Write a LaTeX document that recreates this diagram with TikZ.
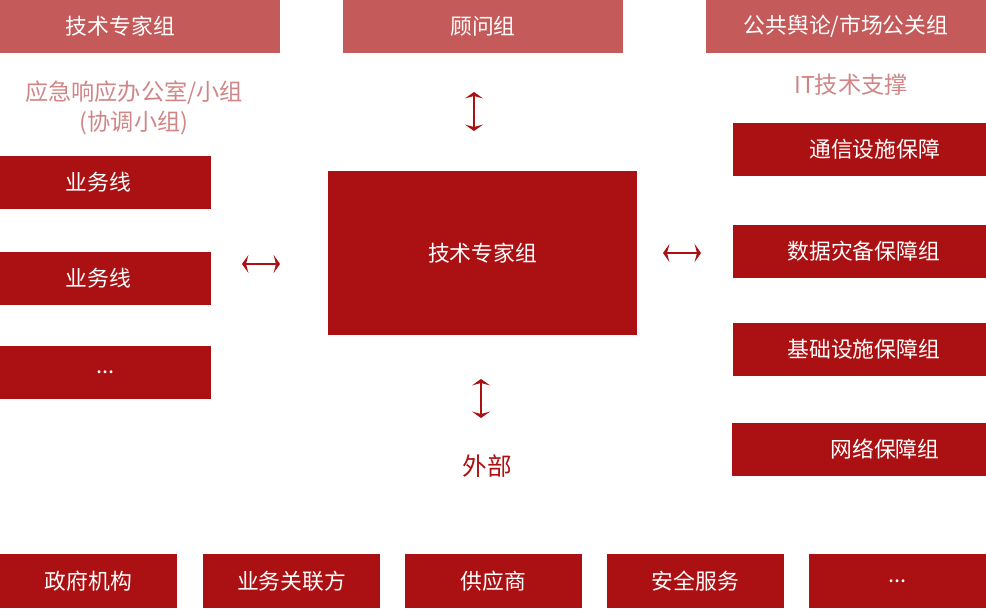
\documentclass[tikz,border=0pt]{standalone}
\usepackage{fontspec}
\newfontfamily\cjk{Noto Sans CJK SC}
\usepackage{tikz}
\usetikzlibrary{arrows.meta}
\definecolor{darkred}{HTML}{AB1012}
\definecolor{lightred}{HTML}{C55A5A}
\definecolor{palered}{HTML}{D08686}
\tikzset{banner/.style={fill=lightred, text=white, minimum width=7cm, minimum height=1.325cm, inner sep=0pt, font=\cjk\fontsize{15.5}{18}\selectfont}}
\tikzset{box/.style={fill=darkred, text=white, minimum height=1.325cm, inner sep=0pt, font=\cjk\fontsize{15.5}{18}\selectfont}}
\tikzset{linebox/.style={box, minimum width=5.275cm}}
\tikzset{itbox/.style={box, minimum width=6.325cm, text width=4.025cm, align=right}}
\tikzset{extbox/.style={box, minimum width=4.425cm, minimum height=1.35cm}}
\tikzset{note/.style={text=palered, align=center, font=\cjk\fontsize{16.5}{21.5}\selectfont}}
\tikzset{link/.style={darkred, line width=2pt, {Stealth[length=0.16cm,width=0.45cm,inset=0.06cm]}-{Stealth[length=0.16cm,width=0.45cm,inset=0.06cm]}}}

\begin{document}
\begin{tikzpicture}[x=0.025cm,y=-0.025cm]
    \useasboundingbox (0,0) rectangle (986,610);

    \node[banner, text width=3.7cm, align=left] at (140,26.5) (expert){技术专家组};
    \node[banner] at (483,26.5) (advisor){顾问组};
    \node[banner] at (846,26.5) (pr){公共舆论/市场公关组};

    \node[note] at (134,108) (office){应急响应办公室/小组\\(协调小组)};
    \node[linebox, text width=1.975cm, align=left] at (105.5,182.5) (biz1){业务线};
    \node[linebox, text width=1.975cm, align=left] at (105.5,278.5) (biz2){业务线};
    \node[linebox] at (105.5,372.5) (biz3){...};

    \node[box, minimum width=7.725cm, minimum height=4.1cm] at (482.5,253) (core){技术专家组};

    \node[note] at (851,85) (it){IT技术支撑};
    \node[itbox] at (859.5,149.5) (it1){通信设施保障};
    \node[itbox] at (859.5,251.5) (it2){数据灾备保障组};
    \node[itbox] at (859.5,349.5) (it3){基础设施保障组};
    \node[itbox] at (859,449.5) (it4){网络保障组};

    \node[note, text=darkred, font=\cjk\fontsize{17.5}{21}\selectfont] at (487,466) (ext){外部};

    \node[extbox] at (88.5,581) (gov){政府机构};
    \node[extbox] at (291.5,581) (partner){业务关联方};
    \node[extbox] at (493.5,581) (vendor){供应商};
    \node[extbox] at (695.5,581) (sec){安全服务};
    \node[extbox] at (897.5,581) (more){...};

    % arrow ends
    \coordinate (a1) at (474,92);
    \coordinate (a2) at (474,131);
    \coordinate (b1) at (481,379);
    \coordinate (b2) at (481,418);
    \coordinate (c1) at (242,264);
    \coordinate (c2) at (280,264);
    \coordinate (d1) at (663,253);
    \coordinate (d2) at (701,253);

    \draw[link] (a1) -- (a2);
    \draw[link] (b1) -- (b2);
    \draw[link] (c1) -- (c2);
    \draw[link] (d1) -- (d2);
\end{tikzpicture}
\end{document}
